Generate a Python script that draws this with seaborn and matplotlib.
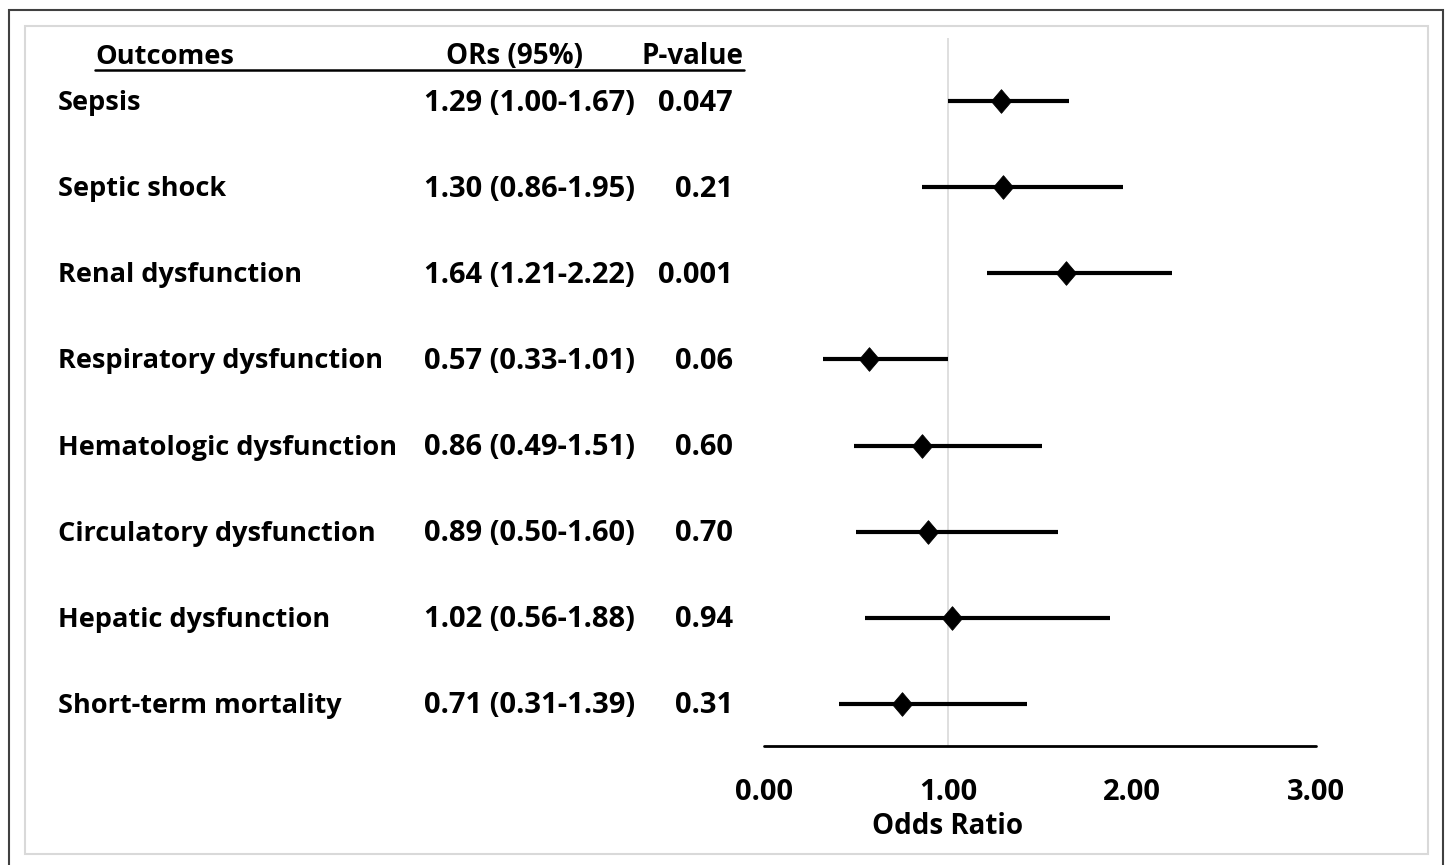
import matplotlib
matplotlib.use("Agg")
import matplotlib.pyplot as plt
import matplotlib.transforms as mtransforms
from matplotlib.patches import Rectangle
from matplotlib.lines import Line2D
import seaborn as sns
import pandas as pd

# ---- data ----
outcomes = ["Sepsis", "Septic shock", "Renal dysfunction", "Respiratory dysfunction",
            "Hematologic dysfunction", "Circulatory dysfunction", "Hepatic dysfunction",
            "Short-term mortality"]
or_text = ["1.29 (1.00-1.67)", "1.30 (0.86-1.95)", "1.64 (1.21-2.22)", "0.57 (0.33-1.01)",
           "0.86 (0.49-1.51)", "0.89 (0.50-1.60)", "1.02 (0.56-1.88)", "0.71 (0.31-1.39)"]
p_text = ["0.047", "0.21", "0.001", "0.06", "0.60", "0.70", "0.94", "0.31"]
or_est = [1.29, 1.30, 1.64, 0.57, 0.86, 0.89, 1.02, 0.75]
ci_low = [1.00, 0.86, 1.21, 0.32, 0.49, 0.50, 0.55, 0.41]
ci_high = [1.66, 1.95, 2.22, 1.00, 1.51, 1.60, 1.88, 1.43]
x_ticks = [0.0, 1.0, 2.0, 3.0]
x_tick_labels = ["0.00", "1.00", "2.00", "3.00"]
headers = ["Outcomes", "ORs (95%)", "P-value"]

df = pd.DataFrame({"outcome": outcomes, "row": list(range(len(outcomes))),
                   "est": or_est, "lo": ci_low, "hi": ci_high})

sns.set_theme(style="white")
plt.rcParams["font.family"] = ["Open Sans", "DejaVu Sans"]

W, H = 1447, 865
fig = plt.figure(figsize=(W / 100, H / 100), dpi=100)

def fx(px):
    return px / W

def fy(py):
    return 1 - py / H

# plot axes: x 0..3 spans px 764..1316 ; axes top 38, bottom 746
ax = fig.add_axes([fx(764), fy(746), fx(1316) - fx(764), (746 - 38) / H])
row_gap = 86.14
ax.set_xlim(0, 3)
ax.set_ylim(7 + 42 / row_gap, -63 / row_gap)
for s in ax.spines.values():
    s.set_visible(False)
ax.set_yticks([])
ax.set_xticks([])

diamond = [(0, 1), (0.85, 0), (0, -1), (-0.85, 0), (0, 1)]
ax.axvline(1.0, color="#d9d9d9", lw=1.2, zorder=0)
ax.hlines(df["row"], df["lo"], df["hi"], color="black", lw=3.0, zorder=2)
sns.scatterplot(data=df, x="est", y="row", marker=diamond, s=290, color="black",
                edgecolor="black", linewidth=0.6, ax=ax, zorder=3, legend=False)
ax.set_xlabel("")
ax.set_ylabel("")
# axis line
ax.add_line(Line2D([0, 3], [0, 0], transform=mtransforms.blended_transform_factory(ax.transData, ax.transAxes),
                   color="black", lw=2.0, clip_on=False))

fs_lab = 19.5
fs_num = 21
fs_head = 20
dy = 2 / row_gap
# tick labels
tick_tr = mtransforms.blended_transform_factory(ax.transData, fig.transFigure)
for t, lab in zip(x_ticks, x_tick_labels):
    ax.text(t, fy(792), lab, transform=tick_tr,
            ha="center", va="center", fontsize=fs_num, fontweight="bold", color="black")
ax.text(1.0, fy(827), "Odds Ratio", transform=tick_tr,
        ha="center", va="center", fontsize=fs_head, fontweight="bold", color="black")

# table columns
tr = mtransforms.blended_transform_factory(fig.transFigure, ax.transData)
for i in range(len(outcomes)):
    ax.text(fx(58), i + dy, outcomes[i], transform=tr, ha="left", va="center",
            fontsize=fs_lab, fontweight="bold", color="black")
    ax.text(fx(424), i + dy, or_text[i], transform=tr, ha="left", va="center",
            fontsize=fs_num, fontweight="bold", color="black")
    ax.text(fx(733), i + dy, p_text[i], transform=tr, ha="right", va="center",
            fontsize=fs_num, fontweight="bold", color="black")

# headers
fig.text(fx(95), fy(57), headers[0], ha="left", va="center", fontsize=19.6, fontweight="bold", color="black")
fig.text(fx(515), fy(57), headers[1], ha="center", va="center", fontsize=fs_head, fontweight="bold", color="black")
fig.text(fx(744), fy(57), headers[2], ha="right", va="center", fontsize=fs_head, fontweight="bold", color="black")
fig.add_artist(Line2D([fx(95), fx(744)], [fy(70), fy(70)], transform=fig.transFigure, color="black", lw=1.8))

# borders
fig.add_artist(Rectangle((fx(9), fy(870)), fx(1443) - fx(9), (870 - 10) / H, transform=fig.transFigure,
                         fill=False, edgecolor="#404040", lw=1.5))
fig.add_artist(Rectangle((fx(25), fy(854)), fx(1428) - fx(25), (854 - 26) / H, transform=fig.transFigure,
                         fill=False, edgecolor="#d9d9d9", lw=1.5))

fig.savefig("out.png", dpi=100, facecolor="white")
